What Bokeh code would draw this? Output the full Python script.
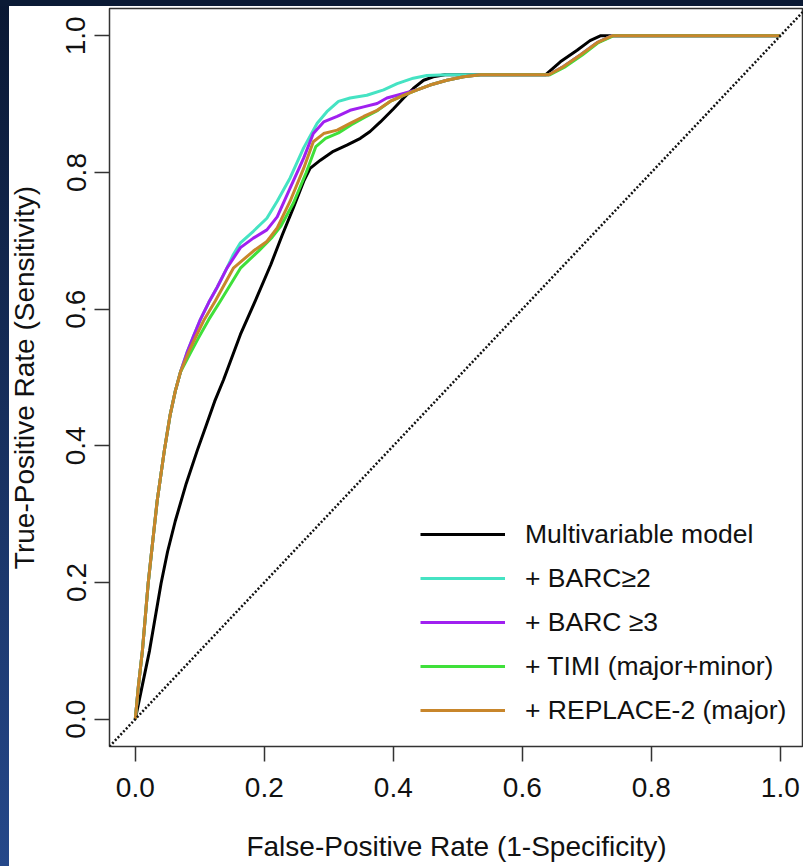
from bokeh.plotting import figure
from bokeh.models import Range1d, FixedTicker, PrintfTickFormatter, Slope, Legend, LegendItem
from bokeh.embed import file_html
from bokeh.resources import INLINE

# ---- data ----
ticks = [0.0, 0.2, 0.4, 0.6, 0.8, 1.0]

fpr_base = [0.0, 0.022, 0.040, 0.050, 0.062, 0.079, 0.096, 0.110, 0.123, 0.137, 0.150, 0.163,
            0.186, 0.210, 0.228, 0.245, 0.261, 0.271, 0.287, 0.307, 0.328, 0.349, 0.364, 0.380,
            0.400, 0.416, 0.431, 0.447, 0.462, 0.480, 0.636, 0.659, 0.685, 0.705, 0.721, 1.0]
tpr_base = [0.0, 0.100, 0.199, 0.245, 0.290, 0.345, 0.393, 0.430, 0.465, 0.497, 0.530, 0.563,
            0.612, 0.665, 0.709, 0.748, 0.787, 0.806, 0.818, 0.831, 0.840, 0.850, 0.860, 0.874,
            0.893, 0.909, 0.923, 0.935, 0.940, 0.943, 0.943, 0.962, 0.979, 0.993, 1.0, 1.0]

fpr_barc2 = [0.0, 0.005, 0.011, 0.020, 0.027, 0.034, 0.045, 0.054, 0.062, 0.070, 0.080, 0.090,
             0.101, 0.114, 0.127, 0.142, 0.152, 0.163, 0.183, 0.204, 0.220, 0.240, 0.261, 0.282,
             0.297, 0.315, 0.333, 0.359, 0.385, 0.406, 0.431, 0.452, 0.483, 0.641, 0.664, 0.690,
             0.716, 0.739, 1.0]
tpr_barc2 = [0.0, 0.050, 0.100, 0.199, 0.260, 0.320, 0.393, 0.445, 0.480, 0.508, 0.536, 0.560,
             0.585, 0.610, 0.632, 0.660, 0.680, 0.697, 0.714, 0.733, 0.758, 0.792, 0.836, 0.872,
             0.889, 0.904, 0.909, 0.913, 0.921, 0.930, 0.938, 0.942, 0.943, 0.943, 0.955, 0.972,
             0.990, 1.0, 1.0]

fpr_barc3 = [0.0, 0.005, 0.011, 0.020, 0.027, 0.034, 0.045, 0.054, 0.062, 0.070, 0.080, 0.090,
             0.101, 0.114, 0.127, 0.142, 0.163, 0.183, 0.204, 0.220, 0.240, 0.261, 0.276, 0.292,
             0.313, 0.333, 0.354, 0.375, 0.390, 0.406, 0.437, 0.457, 0.483, 0.509, 0.535, 0.641,
             0.664, 0.690, 0.716, 0.739, 1.0]
tpr_barc3 = [0.0, 0.050, 0.100, 0.199, 0.260, 0.320, 0.393, 0.445, 0.480, 0.508, 0.536, 0.560,
             0.585, 0.610, 0.632, 0.660, 0.690, 0.704, 0.716, 0.735, 0.777, 0.821, 0.857, 0.874,
             0.882, 0.891, 0.896, 0.901, 0.909, 0.913, 0.921, 0.928, 0.935, 0.940, 0.943, 0.943,
             0.955, 0.972, 0.990, 1.0, 1.0]

fpr_timi = [0.0, 0.005, 0.011, 0.020, 0.027, 0.034, 0.045, 0.054, 0.062, 0.070, 0.085, 0.098,
            0.114, 0.132, 0.163, 0.191, 0.212, 0.226, 0.245, 0.265, 0.280, 0.295, 0.315, 0.335,
            0.356, 0.376, 0.395, 0.416, 0.437, 0.457, 0.483, 0.509, 0.535, 0.643, 0.667, 0.693,
            0.718, 0.741, 1.0]
tpr_timi = [0.0, 0.050, 0.100, 0.199, 0.260, 0.320, 0.393, 0.445, 0.480, 0.508, 0.535, 0.558,
            0.585, 0.612, 0.660, 0.685, 0.705, 0.722, 0.755, 0.800, 0.838, 0.850, 0.858, 0.870,
            0.881, 0.891, 0.904, 0.913, 0.921, 0.928, 0.935, 0.940, 0.943, 0.943, 0.955, 0.972,
            0.990, 1.0, 1.0]

fpr_replace = [0.0, 0.005, 0.011, 0.020, 0.027, 0.034, 0.045, 0.054, 0.062, 0.070, 0.083, 0.094,
               0.107, 0.124, 0.152, 0.183, 0.204, 0.220, 0.240, 0.261, 0.276, 0.292, 0.313, 0.333,
               0.354, 0.375, 0.395, 0.416, 0.437, 0.457, 0.483, 0.509, 0.535, 0.641, 0.664, 0.690,
               0.716, 0.739, 1.0]
tpr_replace = [0.0, 0.050, 0.100, 0.199, 0.260, 0.320, 0.393, 0.445, 0.480, 0.508, 0.538, 0.560,
               0.585, 0.612, 0.660, 0.685, 0.699, 0.719, 0.758, 0.806, 0.845, 0.857, 0.862, 0.872,
               0.882, 0.891, 0.904, 0.913, 0.921, 0.928, 0.935, 0.940, 0.943, 0.943, 0.955, 0.972,
               0.990, 1.0, 1.0]

labels = ["Multivariable model", "+ BARC\u22652", "+ BARC \u22653",
          "+ TIMI (major+minor)", "+ REPLACE-2 (major)"]
colors = ["#000000", "#45E3C3", "#A020F0", "#3FE03A", "#C8862B"]

FONT = "Liberation Sans"
W, H = 803, 866

p = figure(width=W, height=H, output_backend="svg", toolbar_location=None,
           x_range=Range1d(-0.04, 1.036), y_range=Range1d(-0.04, 1.04),
           min_border_left=109, min_border_top=8, min_border_right=0, min_border_bottom=120,
           x_axis_label="False-Positive Rate (1-Specificity)",
           y_axis_label="True-Positive Rate (Sensitivity)")
p.background_fill_color = "white"
p.border_fill_alpha = 0
# dark page border seen along the left and top edges of the reference image
p.styles = {
    "background": ("linear-gradient(#0b1a35, #0b1a35) left top / 100% 6px no-repeat, "
                   "linear-gradient(to bottom, #0a1833, #25488a) left top / 9px 100% no-repeat, "
                   "#ffffff"),
}
p.grid.visible = False
p.outline_line_color = "#333333"
p.outline_line_width = 1.5

for ax in (p.xaxis[0], p.yaxis[0]):
    ax.ticker = FixedTicker(ticks=ticks)
    ax.formatter = PrintfTickFormatter(format="%.1f")
    ax.axis_line_color = None
    ax.major_tick_out = 15
    ax.major_tick_in = 0
    ax.minor_tick_line_color = None
    ax.major_tick_line_color = "#333333"
    ax.major_tick_line_width = 1.5
    ax.major_label_text_font = FONT
    ax.major_label_text_font_size = "28px"
    ax.major_label_text_color = "#111111"
    ax.axis_label_text_font = FONT
    ax.axis_label_text_font_size = "28px"
    ax.axis_label_text_font_style = "normal"
    ax.axis_label_text_color = "#111111"

p.xaxis.major_label_standoff = 16
p.xaxis.axis_label_standoff = 31
p.yaxis.major_label_orientation = "vertical"
p.yaxis.major_label_standoff = 9
p.yaxis.axis_label_standoff = 24

p.add_layout(Slope(gradient=1, y_intercept=0, line_color="#111111",
                   line_width=2.5, line_dash="2 2"))

series = [(fpr_base, tpr_base), (fpr_barc2, tpr_barc2), (fpr_barc3, tpr_barc3),
          (fpr_timi, tpr_timi), (fpr_replace, tpr_replace)]
renderers = []
for (xs, ys), c in zip(series, colors):
    r = p.line(xs, ys, line_color=c, line_width=3, line_join="round")
    renderers.append(r)

items = [LegendItem(label=l, renderers=[r]) for l, r in zip(labels, renderers)]
legend = Legend(items=items, location=(311, 14), orientation="vertical",
                glyph_width=85, glyph_height=44, label_height=44, spacing=0,
                label_standoff=20, padding=0, margin=0,
                border_line_color=None, background_fill_alpha=0,
                label_text_font=FONT, label_text_font_size="26.5px",
                label_text_color="#111111")
p.add_layout(legend)

open("out.html", "w").write(file_html(p, INLINE))
